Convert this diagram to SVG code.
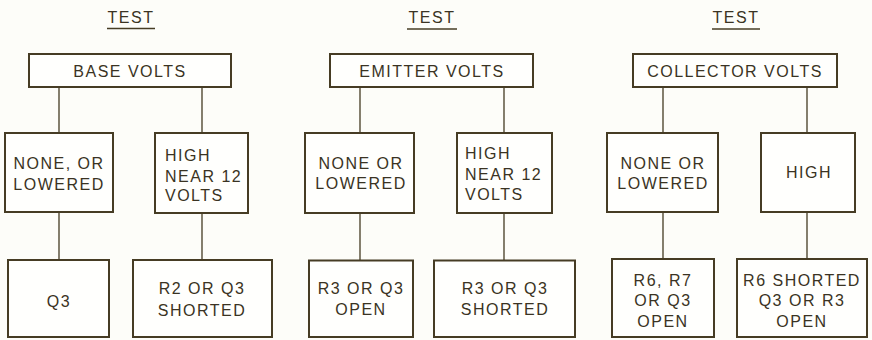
<svg xmlns="http://www.w3.org/2000/svg" width="872" height="340" viewBox="0 0 872 340">
<style>
text{font-family:"Liberation Sans",Arial,sans-serif;font-size:16px;letter-spacing:1.5px;fill:#3a3323}
.c{text-anchor:middle}
.box{fill:#fffffd;stroke:#463c24;stroke-width:2}
.ln{stroke:#463c24;stroke-width:1.3;fill:none}
.ul{stroke:#463c24;stroke-width:1.5}
</style>
<rect width="872" height="340" fill="#fdfdf9"/>
<g id="connectors">
<path class="ln" d="M59 87V133M202 87V133M59 212V260M202 212V260"/>
<path class="ln" d="M360 87V133M504 87V133M360 212V260M504 212V260"/>
<path class="ln" d="M663 87V133M807 87V133M663 212V259M807 212V259"/>
</g>
<g id="test1"><text class="c" x="131" y="23">TEST</text><line class="ul" x1="107" y1="28.5" x2="155" y2="28.5"/></g>
<g id="test2"><text class="c" x="432" y="23">TEST</text><line class="ul" x1="407" y1="29" x2="457" y2="29"/></g>
<g id="test3"><text class="c" x="736" y="23">TEST</text><line class="ul" x1="712" y1="29" x2="760" y2="29"/></g>
<g id="base"><rect class="box" x="29" y="54" width="202" height="33"/><text class="c" x="130" y="77">BASE VOLTS</text></g>
<g id="emitter"><rect class="box" x="330" y="54" width="203" height="33"/><text class="c" x="432" y="77">EMITTER VOLTS</text></g>
<g id="collector"><rect class="box" x="633" y="54" width="204" height="33"/><text class="c" x="735" y="77">COLLECTOR VOLTS</text></g>
<g id="base-low"><rect class="box" x="5" y="133" width="108" height="79"/><text class="c" x="59" y="169">NONE, OR</text><text class="c" x="59" y="190">LOWERED</text></g>
<g id="base-high"><rect class="box" x="155" y="133" width="93" height="80"/><text x="165" y="161">HIGH</text><text x="165" y="181.5">NEAR 12</text><text x="165" y="201">VOLTS</text></g>
<g id="emit-low"><rect class="box" x="305" y="133" width="109" height="80"/><text class="c" x="361" y="169">NONE OR</text><text class="c" x="361" y="189">LOWERED</text></g>
<g id="emit-high"><rect class="box" x="457" y="133" width="95" height="80"/><text x="465" y="159">HIGH</text><text x="465" y="180">NEAR 12</text><text x="465" y="200">VOLTS</text></g>
<g id="coll-low"><rect class="box" x="607" y="133" width="111" height="79"/><text class="c" x="663" y="169">NONE OR</text><text class="c" x="663" y="189">LOWERED</text></g>
<g id="coll-high"><rect class="box" x="761" y="133" width="94" height="79"/><text class="c" x="809" y="178">HIGH</text></g>
<g id="q3"><rect class="box" x="8" y="260" width="101" height="77"/><text class="c" x="59" y="307">Q3</text></g>
<g id="r2-shorted"><rect class="box" x="133" y="260" width="139" height="77"/><text class="c" x="202" y="294">R2 OR Q3</text><text class="c" x="202" y="316">SHORTED</text></g>
<g id="r3-open"><rect class="box" x="309" y="260.5" width="104" height="76.5"/><text class="c" x="361" y="294">R3 OR Q3</text><text class="c" x="361" y="315">OPEN</text></g>
<g id="r3-shorted"><rect class="box" x="434" y="260.5" width="141" height="76.5"/><text class="c" x="505" y="294">R3 OR Q3</text><text class="c" x="505" y="315">SHORTED</text></g>
<g id="r6-r7-open"><rect class="box" x="612" y="259" width="102" height="78"/><text class="c" x="663" y="286">R6, R7</text><text class="c" x="663" y="306">OR Q3</text><text class="c" x="663" y="327">OPEN</text></g>
<g id="r6-shorted"><rect class="box" x="737" y="259" width="130" height="78"/><text class="c" x="802" y="286">R6 SHORTED</text><text class="c" x="802" y="306">Q3 OR R3</text><text class="c" x="802" y="327">OPEN</text></g>
</svg>
